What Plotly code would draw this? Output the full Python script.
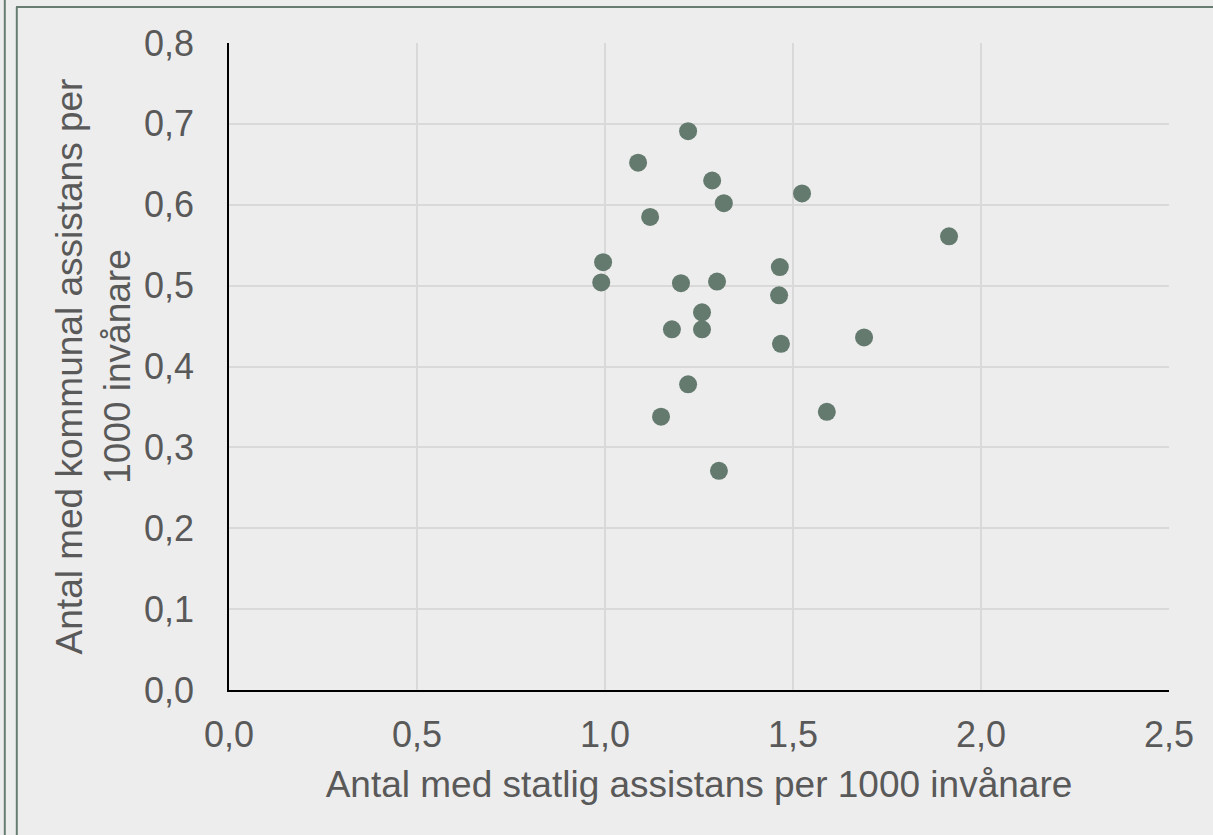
import plotly.graph_objects as go

# Data
statlig = [1.221, 1.088, 1.285, 1.316, 1.524, 1.120, 1.915, 0.995, 0.990, 1.202,
           1.298, 1.465, 1.463, 1.258, 1.178, 1.258, 1.468, 1.689, 1.221, 1.149,
           1.590, 1.303]
kommunal = [0.691, 0.652, 0.630, 0.602, 0.614, 0.585, 0.561, 0.529, 0.504, 0.503,
            0.505, 0.523, 0.488, 0.467, 0.446, 0.446, 0.428, 0.436, 0.378, 0.338,
            0.344, 0.271]

x_title = "Antal med statlig assistans per 1000 invånare"
y_title = "Antal med kommunal assistans per<br>1000 invånare"

W, H = 1213, 835
L, R, T, B = 229, 44, 43, 145
pw, ph = W - L - R, H - T - B

def px(x):
    return (x - L) / pw

def py(y):
    return (H - B - y) / ph

FONT = "Liberation Sans, Arial, sans-serif"
TXT = "#595959"
BG = "#EDEDED"
BORDER = "#687D72"

fig = go.Figure(go.Scatter(
    x=statlig, y=kommunal, mode="markers",
    marker=dict(size=18, color="#647A6E", line=dict(width=0)),
    hoverinfo="x+y", showlegend=False,
))

fig.update_layout(
    width=W, height=H,
    margin=dict(l=L, r=R, t=T, b=B, pad=0),
    paper_bgcolor=BG, plot_bgcolor=BG,
    separators=", ",
    font=dict(family=FONT, color=TXT, size=36),
    xaxis=dict(
        range=[0, 2.5], dtick=0.5, tick0=0, tickformat=".1f",
        showgrid=True, gridcolor="#D9D9D9", gridwidth=1.5,
        showline=True, linecolor="black", linewidth=1.5,
        zeroline=False, ticks="", ticklabelstandoff=12,
        tickfont=dict(size=36, color=TXT, family=FONT),
        title=dict(text=x_title, font=dict(size=37, color=TXT, family=FONT), standoff=17),
        fixedrange=True,
    ),
    yaxis=dict(
        range=[0, 0.8], dtick=0.1, tick0=0, tickformat=".1f",
        showgrid=True, gridcolor="#D9D9D9", gridwidth=1.5,
        showline=True, linecolor="black", linewidth=1.5,
        zeroline=False, ticks="", ticklabelstandoff=26,
        tickfont=dict(size=36, color=TXT, family=FONT),
        title=dict(text=y_title, font=dict(size=37, color=TXT, family=FONT), standoff=2),
        fixedrange=True,
    ),
    shapes=[
        dict(type="line", xref="paper", yref="paper", x0=px(4.8), x1=px(4.8), y0=py(0), y1=py(H),
             line=dict(color=BORDER, width=2)),
        dict(type="line", xref="paper", yref="paper", x0=px(16.8), x1=px(16.8), y0=py(7), y1=py(H),
             line=dict(color=BORDER, width=2)),
        dict(type="line", xref="paper", yref="paper", x0=px(16), x1=px(W), y0=py(7), y1=py(7),
             line=dict(color=BORDER, width=2)),
    ],
)

fig.write_html("out.html", config={"displayModeBar": False},
               post_script="document.body.style.margin='0';document.body.style.padding='0';")
